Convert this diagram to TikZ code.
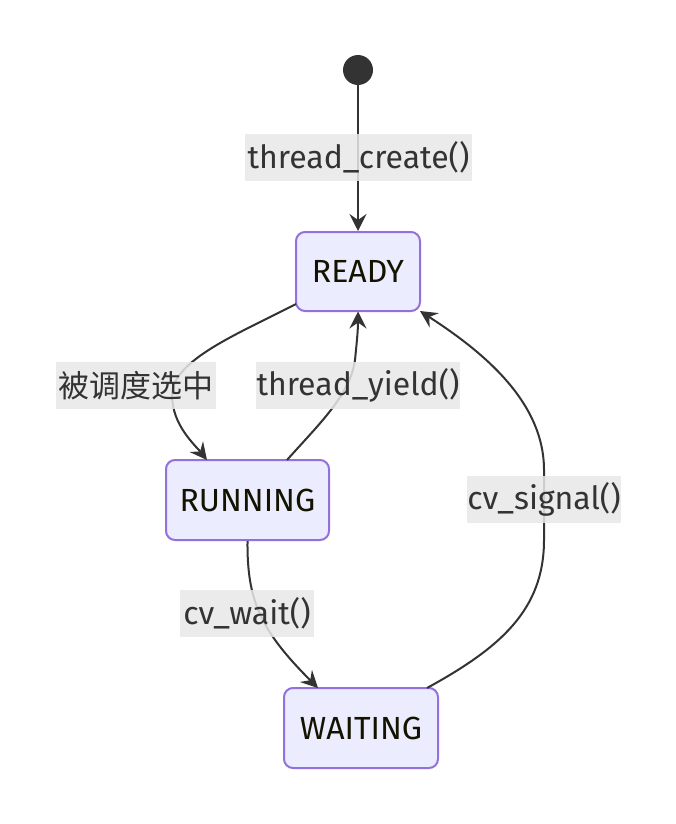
\documentclass[tikz,border=0pt]{standalone}
\usepackage{fontspec}
\setmainfont{Fira Sans}
\newfontfamily\cjk{Noto Sans CJK SC}
\usetikzlibrary{arrows.meta}
\definecolor{boxfill}{HTML}{ECECFF}
\definecolor{boxline}{HTML}{9370DB}
\definecolor{edgecol}{HTML}{333333}
\definecolor{labelbg}{HTML}{E8E8E8}
\definecolor{boxtext}{HTML}{131300}
\tikzset{
  statebox/.style={draw=boxline, fill=boxfill, line width=2pt, rounded corners=9pt,
    text=boxtext, font=\fontsize{32}{36}\selectfont, inner sep=0pt},
  edgelabel/.style={fill=labelbg, fill opacity=0.85, text opacity=1, text=edgecol,
    font=\fontsize{32}{36}\selectfont, inner sep=0pt},
  trans/.style={draw=edgecol, line width=2pt, -{Stealth[length=17pt, width=17pt, inset=6pt]}},
}
\begin{document}
\begin{tikzpicture}[x=1pt, y=-1pt]
\useasboundingbox (0,0) rectangle (676,824);
\node[circle, fill=edgecol, minimum size=30pt, inner sep=0pt] (start) at (358,70) {};
\node[statebox, minimum width=124pt, minimum height=79pt] (ready) at (358,271.5) {READY};
\node[statebox, minimum width=163pt, minimum height=80pt] (running) at (247.5,500) {RUNNING};
\node[statebox, minimum width=154pt, minimum height=80pt] (waiting) at (361,728) {WAITING};
\coordinate (rl) at (296,304);
\coordinate (rt) at (207,460);
\coordinate (yt) at (287,460);
\coordinate (yh) at (358,311.5);
\coordinate (wt) at (318,688);
\coordinate (ws) at (427,688);
\coordinate (sh) at (420,311);
\draw[trans] (start) -- (ready);
\draw[trans] (rl) .. controls (240,333) and (172,360) .. (172,395) .. controls (172,425) and (195,445) .. (rt);
\draw[trans] (yt) .. controls (320,423) and (350,395) .. (355,360) .. controls (357,340) and (358,330) .. (yh);
\draw[trans] (running.south) .. controls (247,600) and (260,630) .. (wt);
\draw[trans] (ws) .. controls (500,648) and (544,610) .. (544,540) -- (544,470) .. controls (544,400) and (480,350) .. (sh);
\node[edgelabel, minimum width=227pt, minimum height=47pt] (l1) at (358.5,157.5) {thread\_create()};
\node[edgelabel, minimum width=160pt, minimum height=47pt, font=\cjk\fontsize{31}{36}\selectfont] (l2) at (136,385.5) {被调度选中};
\node[edgelabel, minimum width=204pt, minimum height=47pt] (l3) at (358,385.5) {thread\_yield()};
\node[edgelabel, minimum width=154pt, minimum height=47pt] (l4) at (544,499.5) {cv\_signal()};
\node[edgelabel, minimum width=134pt, minimum height=47pt] (l5) at (247,613.5) {cv\_wait()};
\end{tikzpicture}
\end{document}
